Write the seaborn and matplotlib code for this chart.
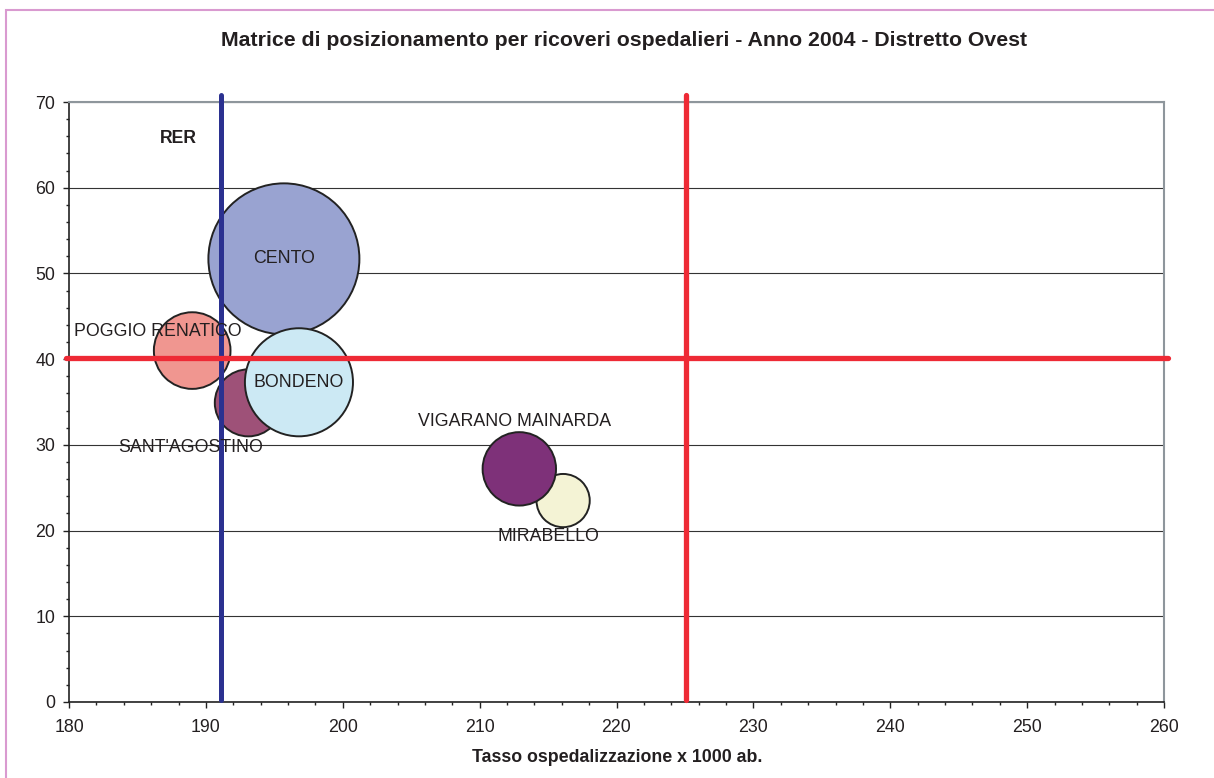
import numpy as np
import pandas as pd
import matplotlib
matplotlib.use("Agg")
import matplotlib.pyplot as plt
import seaborn as sns
from matplotlib.ticker import MultipleLocator
from matplotlib.patches import Rectangle

# --- dati ---
comuni = ["CENTO", "SANT'AGOSTINO", "BONDENO", "POGGIO RENATICO", "MIRABELLO", "VIGARANO MAINARDA"]
tasso = [195.7, 193.1, 196.8, 189.0, 216.1, 212.9]      # tasso ospedalizzazione x 1000 ab.
indice = [51.7, 34.9, 37.3, 41.0, 23.5, 27.2]           # asse y
popolazione = [33000, 6500, 16900, 8500, 4100, 7800]    # dimensione bolle
colori = ["#99A3D1", "#9E5178", "#CCE9F4", "#F09690", "#F4F3D5", "#7E3179"]

rer_x = 191.1       # valore regionale (RER)
soglia_x = 225.1
soglia_y = 40.1

# scostamento etichette (punti)
offset_etichette = {
    "CENTO": (0, 0),
    "SANT'AGOSTINO": (-41.4, -32),
    "BONDENO": (0, 0),
    "POGGIO RENATICO": (-24.8, 13.7),
    "MIRABELLO": (-10.8, -25.6),
    "VIGARANO MAINARDA": (-3.2, 33.8),
}

df = pd.DataFrame({"comune": comuni, "tasso": tasso, "indice": indice, "pop": popolazione})

sns.set_style("white")
plt.rcParams["font.family"] = ["Liberation Sans", "DejaVu Sans"]

fig = plt.figure(figsize=(12.14, 7.78), dpi=100)
ax = fig.add_axes([69 / 1214, 1 - 702 / 778, 1095 / 1214, 600 / 778])

scala_bolle = 0.3582  # punti^2 per abitante
pmin, pmax = min(popolazione), max(popolazione)
sns.scatterplot(data=df, x="tasso", y="indice", hue="comune", palette=colori,
                size="pop", sizes=(pmin * scala_bolle, pmax * scala_bolle), size_norm=(pmin, pmax),
                edgecolor="#222222", linewidth=1.4, alpha=1, legend=False, ax=ax, zorder=2)

# linee di riferimento
ax.axvline(rer_x, ymin=0.003, ymax=1.011, color="#2B3190", lw=3.6, clip_on=False, zorder=3)
ax.axvline(soglia_x, ymin=0.003, ymax=1.011, color="#EE2A35", lw=3.8, clip_on=False, zorder=3)
ax.axhline(soglia_y, xmin=-0.003, xmax=1.004, color="#EE2A35", lw=3.8, clip_on=False, zorder=3)

for c, x, y in zip(comuni, tasso, indice):
    dx, dy = offset_etichette[c]
    ax.annotate(c, (x, y), xytext=(dx, dy), textcoords="offset points",
                ha="center", va="center", fontsize=12.8, color="#231F20", zorder=4)

ax.text(187.96, 65.8, "RER", ha="center", va="center", fontsize=12.7, fontweight="bold", color="#231F20")

ax.set_xlim(180, 260)
ax.set_ylim(0, 70)
ax.xaxis.set_major_locator(MultipleLocator(10))
ax.xaxis.set_minor_locator(MultipleLocator(2))
ax.yaxis.set_major_locator(MultipleLocator(10))
ax.yaxis.set_minor_locator(MultipleLocator(2))
ax.tick_params(axis="both", which="major", direction="out", length=4, width=1, color="#222222",
               labelsize=12.8, labelcolor="#231F20")
ax.tick_params(axis="both", which="minor", direction="out", length=2.5, width=1, color="#222222")
ax.tick_params(axis="x", which="major", pad=8)
ax.tick_params(axis="y", which="major", pad=6)
ax.tick_params(bottom=True, left=True, which="both")

ax.yaxis.grid(True, which="major", color="#333333", lw=0.8)
ax.set_axisbelow(True)

for s in ["left", "bottom"]:
    ax.spines[s].set_color("#222222")
    ax.spines[s].set_linewidth(1.2)
for s in ["top", "right"]:
    ax.spines[s].set_color("#8E969C")
    ax.spines[s].set_linewidth(1.5)

ax.set_ylabel("")
ax.set_xlabel("Tasso ospedalizzazione x 1000 ab.", fontsize=12.8, fontweight="bold",
              color="#231F20", va="center")
ax.xaxis.set_label_coords(0.501, -0.0917)

fig.text(624 / 1214, 1 - 40 / 778,
         "Matrice di posizionamento per ricoveri ospedalieri - Anno 2004 - Distretto Ovest",
         ha="center", va="center", fontsize=15.3, fontweight="bold", color="#231F20")

# cornice rosa
fig.patches.append(Rectangle((5.5 / 1214, -0.2), 1.2, 1.2 - 9.5 / 778, transform=fig.transFigure,
                             fill=False, edgecolor="#D99AD0", lw=1.5, zorder=0))

fig.savefig("out.png", dpi=100)
